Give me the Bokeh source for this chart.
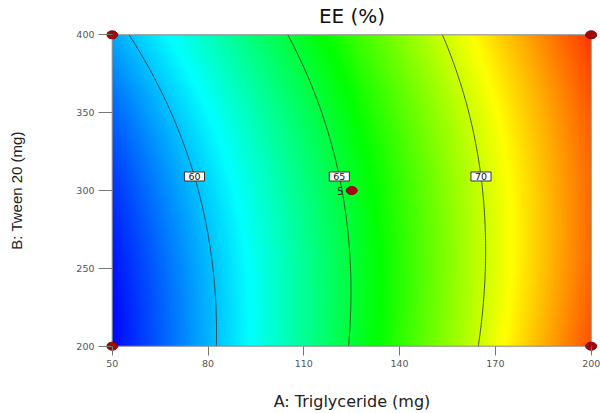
import numpy as np
from bokeh.plotting import figure
from bokeh.models import Range1d, LinearColorMapper, Label
from bokeh.embed import file_html
from bokeh.resources import INLINE

# Factor ranges in actual units
a_low, a_high = 50, 200     # A: Triglyceride (mg)
b_low, b_high = 200, 400    # B: Tween 20 (mg)

# Quadratic response-surface model for EE (%) in coded factors (-1 .. +1)
coef_intercept = 65.34
coef_A = 8.44
coef_B = 0.965
coef_AB = -0.71
coef_A2 = 0.155
coef_B2 = 0.745

contour_levels = [60, 65, 70]
label_B = 309               # B value at which the contour labels sit

# Design points (factorial corners + centre point with its replicate count)
design_A = [50, 50, 200, 200, 125]
design_B = [200, 400, 200, 400, 300]
center_runs = 5

x_ticks = [50, 80, 110, 140, 170, 200]
y_ticks = [200, 250, 300, 350, 400]

# Colour ramp: EE value -> colour stop
ramp_values = [56.0, 61.2, 66.1, 71.0, 76.0]
ramp_colors = ["#0000ff", "#00ffff", "#00ff00", "#ffff00", "#ff0000"]


def coded(v, lo, hi):
    return (v - (lo + hi) / 2) / ((hi - lo) / 2)


def ee_model(A, B):
    a = coded(A, a_low, a_high)
    b = coded(B, b_low, b_high)
    return (coef_intercept + coef_A * a + coef_B * b + coef_AB * a * b
            + coef_A2 * a ** 2 + coef_B2 * b ** 2)


def build_palette(n=256):
    rgb = np.array([[int(c[i:i + 2], 16) for i in (1, 3, 5)] for c in ramp_colors], float)
    vals = np.linspace(ramp_values[0], ramp_values[-1], n)
    out = []
    for v in vals:
        r, g, bb = (np.interp(v, ramp_values, rgb[:, k]) for k in range(3))
        out.append("#%02x%02x%02x" % (int(round(r)), int(round(g)), int(round(bb))))
    return out


# Pixel geometry of the plot frame; a small pad keeps corner markers unclipped
W, H = 600, 413
border_left, border_right, border_top, border_bottom = 106, 3, 28, 61
frame_w = W - border_left - border_right
frame_h = H - border_top - border_bottom
pad_l, pad_r, pad_t, pad_b = 5.7, 6.3, 6.3, 6.3
sx = (frame_w - pad_l - pad_r) / (a_high - a_low)
sy = (frame_h - pad_t - pad_b) / (b_high - b_low)

p = figure(width=W, height=H, output_backend="svg", toolbar_location=None,
           x_range=Range1d(a_low - pad_l / sx, a_high + pad_r / sx),
           y_range=Range1d(b_low - pad_b / sy, b_high + pad_t / sy),
           min_border_left=border_left, min_border_right=border_right,
           min_border_top=border_top, min_border_bottom=border_bottom,
           title="EE (%)")
p.outline_line_color = None
p.grid.visible = False
p.background_fill_color = "white"
p.border_fill_color = "white"

p.title.align = "center"
p.title.text_font = "DejaVu Sans"
p.title.text_font_size = "20px"
p.title.text_font_style = "normal"
p.title.text_color = "#111111"
p.title.standoff = 2

# Colour-filled response surface
nx, ny = 480, 312
A_c = a_low + (np.arange(nx) + 0.5) * (a_high - a_low) / nx
B_c = b_low + (np.arange(ny) + 0.5) * (b_high - b_low) / ny
Z = ee_model(A_c[None, :], B_c[:, None])
mapper = LinearColorMapper(palette=build_palette(), low=ramp_values[0], high=ramp_values[-1])
p.image(image=[Z], x=a_low, y=b_low, dw=a_high - a_low, dh=b_high - b_low,
        color_mapper=mapper)

# Contour lines
A_g = np.linspace(a_low, a_high, 151)
B_g = np.linspace(b_low, b_high, 201)
Zg = ee_model(A_g[None, :], B_g[:, None])
p.contour(A_g, B_g, Zg, contour_levels, line_color="#333333", line_width=1, line_alpha=0.85)

# Frame border around the design space
p.quad(left=[a_low], right=[a_high], bottom=[b_low], top=[b_high],
       fill_color=None, line_color="#8a8a8a", line_width=1)

# Contour labels placed on each line at B = label_B
bc = coded(label_B, b_low, b_high)
for lev in contour_levels:
    qa = coef_A2
    qb = coef_A + coef_AB * bc
    qc = coef_intercept + coef_B * bc + coef_B2 * bc ** 2 - lev
    a_root = (-qb + np.sqrt(qb ** 2 - 4 * qa * qc)) / (2 * qa)
    A_lab = (a_low + a_high) / 2 + a_root * (a_high - a_low) / 2
    p.add_layout(Label(x=A_lab, y=label_B, text=str(lev), text_align="center",
                       text_baseline="middle", text_font="DejaVu Sans",
                       text_font_size="9.5px", text_color="#111111",
                       background_fill_color="white", border_line_color="#333333",
                       border_line_width=1,
                       padding=dict(left=4, right=4, top=1, bottom=1)))

# Design points
p.ellipse(x=design_A, y=design_B, width=11, height=8, width_units="screen",
          height_units="screen", fill_color="#a00a0a", line_color="#8a0000")
p.add_layout(Label(x=design_A[-1], y=design_B[-1], text=str(center_runs),
                   x_offset=-8, text_align="right", text_baseline="middle",
                   text_font="DejaVu Sans", text_font_size="10px", text_color="#222222"))

# Axes
for ax in (p.xaxis[0], p.yaxis[0]):
    ax.axis_line_color = None
    ax.minor_tick_line_color = None
    ax.major_tick_line_color = "#777777"
    ax.major_tick_in = 6
    ax.major_label_text_font = "DejaVu Sans"
    ax.major_label_text_font_size = "9.5px"
    ax.major_label_text_color = "#555555"
    ax.major_label_standoff = 4

p.xaxis.ticker = x_ticks
p.yaxis.ticker = y_ticks
p.xaxis.major_tick_out = 3
p.yaxis.major_tick_out = 8

p.xaxis.axis_label = "A: Triglyceride (mg)"
p.xaxis.axis_label_text_font = "DejaVu Sans"
p.xaxis.axis_label_text_font_size = "16px"
p.xaxis.axis_label_text_font_style = "normal"
p.xaxis.axis_label_text_color = "#222222"
p.xaxis.axis_label_standoff = 22

p.yaxis.axis_label = "B: Tween 20 (mg)"
p.yaxis.axis_label_text_font = "Liberation Sans"
p.yaxis.axis_label_text_font_size = "15px"
p.yaxis.axis_label_text_font_style = "normal"
p.yaxis.axis_label_text_color = "#222222"
p.yaxis.axis_label_standoff = 48

open("out.html", "w").write(file_html(p, INLINE))
